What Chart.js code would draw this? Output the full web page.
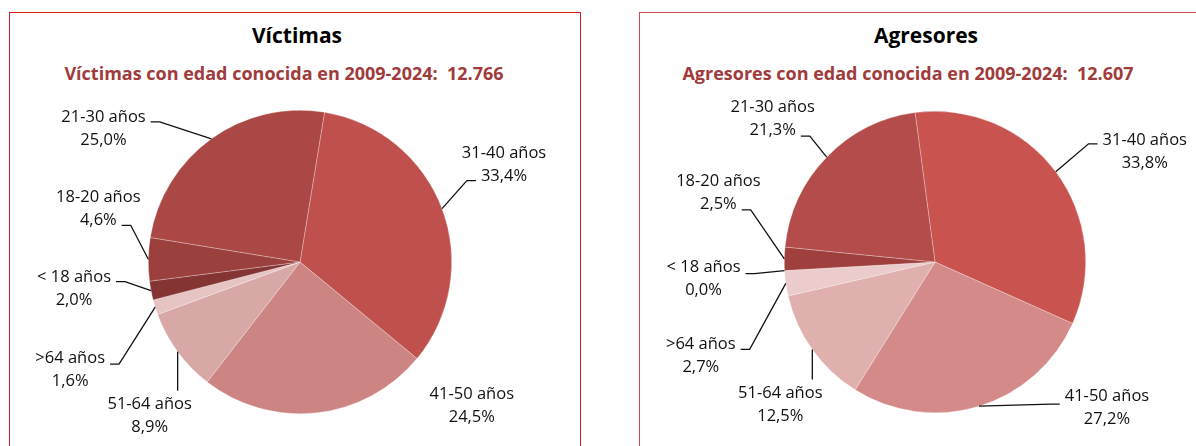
<!DOCTYPE html>
<html lang="es">
<head>
<meta charset="utf-8">
<title>Víctimas y agresores por tramo de edad</title>
<script src="https://cdn.jsdelivr.net/npm/chart.js@4.4.1/dist/chart.umd.min.js"></script>
<style>
  html, body { margin: 0; padding: 0; background: #fff; overflow: hidden; }
  body { width: 1196px; height: 446px; position: relative; font-family: 'Open Sans', sans-serif; }
  .panel { position: absolute; box-sizing: border-box; background: #fff; }
  #panelVict { left: 9px; top: 12px; width: 572px; height: 480px; border: 1.5px solid #d41f1f; }
  #panelAgr { left: 639px; top: 12px; width: 620px; height: 480px; border: 1px solid #d04848; }
  .title { position: absolute; width: 400px; text-align: center; font-weight: 700; font-size: 21px; line-height: 26px; color: #000; }
  .sub { position: absolute; width: 600px; text-align: center; font-weight: 700; font-size: 18px; line-height: 24px; color: #a03b3b; white-space: pre; }
  canvas { position: absolute; }
</style>
</head>
<body>
<div class="panel" id="panelVict"></div>
<div class="panel" id="panelAgr"></div>

<div class="title" style="left:97px; top:22px;">Víctimas</div>
<div class="sub" id="subVict" style="left:-16px; top:61px;"></div>
<div class="title" style="left:726px; top:22px;">Agresores</div>
<div class="sub" id="subAgr" style="left:608px; top:61px;"></div>

<canvas id="chartVict" width="570" height="356" style="left:10px; top:90px;"></canvas>
<canvas id="chartAgr" width="556" height="356" style="left:640px; top:90px;"></canvas>

<script>
// ---- data (clockwise from the top of each pie) ----
const categories = ['31-40 años', '41-50 años', '51-64 años', '>64 años', '< 18 años', '18-20 años', '21-30 años'];
const victimasPct = [33.4, 24.5, 8.9, 1.6, 2.0, 4.6, 25.0];
const agresoresPct = [33.8, 27.2, 12.5, 2.7, 0.0, 2.5, 21.3];
const victimasTotal = '12.766';
const agresoresTotal = '12.607';

// ---- styling ----
const victimasColors = ['#c0504d', '#cc8583', '#d8a8a7', '#e6c4c4', '#843533', '#9c403e', '#ab4846'];
const agresoresColors = ['#c8534f', '#d48a89', '#e0b0af', '#ebcbcb', '#8a3634', '#a0403e', '#b34c4a'];
const LINE_H = 23;

// label placement relative to the slice anchor (mid-angle point on the rim)
const victimasLabelLayout = [
    { dx: 62, dy: -55, leader: 'elbow', line: 1, side: 'left', yOff: 4 },
    { dx: 155, dy: -18, leader: 'none' },
    { dx: -28, dy: 53, leader: 'down' },
    { dx: -85, dy: 51, leader: 'elbow', line: 0, side: 'right', yOff: 6 },
    { dx: -77, dy: -13, leader: 'elbow', line: 0, side: 'right', yOff: 4 },
    { dx: -50, dy: -62, leader: 'elbow', line: 1, side: 'right', yOff: 5 },
    { dx: -108, dy: -22, leader: 'elbow', line: 0, side: 'right', yOff: 5 }
];
const agresoresLabelLayout = [
    { dx: 89, dy: -32, leader: 'elbow', line: 0, side: 'left', yOff: 4 },
    { dx: 128, dy: -10, leader: 'elbow', line: 0, side: 'left', yOff: 8 },
    { dx: -32, dy: 44, leader: 'down' },
    { dx: -85, dy: 61, leader: 'elbow', line: 0, side: 'right', yOff: 5 },
    { dx: -81, dy: -3, leader: 'elbow', line: 0, side: 'right', yOff: 6 },
    { dx: -66, dy: -77, leader: 'elbow', line: 1, side: 'right', yOff: 5 },
    { dx: -54, dy: -50, leader: 'elbow', line: 1, side: 'right', yOff: 6 }
];

document.getElementById('subVict').textContent = 'Víctimas con edad conocida en 2009-2024:  ' + victimasTotal;
document.getElementById('subAgr').textContent = 'Agresores con edad conocida en 2009-2024:  ' + agresoresTotal;

const fmtPct = v => v.toFixed(1).replace('.', ',') + '%';

// Excel-like outside labels with leader lines
const sliceLabels = {
    id: 'sliceLabels',
    afterDatasetsDraw(chart, args, opts) {
        const ctx = chart.ctx;
        const meta = chart.getDatasetMeta(0);
        const values = chart.data.datasets[0].data;
        ctx.save();
        ctx.font = '16.5px "Open Sans"';
        ctx.fillStyle = '#111';
        ctx.strokeStyle = '#111';
        ctx.lineWidth = 1.3;
        ctx.textAlign = 'center';
        ctx.textBaseline = 'middle';
        meta.data.forEach((arc, i) => {
            const p = arc.getProps(['x', 'y', 'startAngle', 'endAngle', 'outerRadius'], true);
            const mid = (p.startAngle + p.endAngle) / 2;
            const ax = p.x + Math.cos(mid) * p.outerRadius;
            const ay = p.y + Math.sin(mid) * p.outerRadius;
            const lay = opts.layout[i];
            const lx = ax + lay.dx, ly = ay + lay.dy;
            const lines = [chart.data.labels[i], fmtPct(values[i])];
            lines.forEach((t, k) => ctx.fillText(t, lx, ly + k * LINE_H));

            if (lay.leader === 'elbow') {
                const w = ctx.measureText(lines[lay.line]).width;
                const dir = lay.side === 'right' ? 1 : -1;
                const sx = lx + dir * (w / 2 + 5);
                const sy = ly + lay.line * LINE_H + lay.yOff;
                ctx.beginPath();
                ctx.moveTo(sx, sy);
                ctx.lineTo(sx + dir * 9, sy);
                ctx.lineTo(ax, ay);
                ctx.stroke();
            } else if (lay.leader === 'down') {
                ctx.beginPath();
                ctx.moveTo(ax, ay);
                ctx.lineTo(ax, ly - 14);
                ctx.stroke();
            }
        });
        ctx.restore();
    }
};

function makePie(id, values, colors, rotation, padding, layout) {
    return new Chart(document.getElementById(id), {
        type: 'pie',
        data: {
            labels: categories,
            datasets: [{
                data: values,
                backgroundColor: colors,
                borderColor: 'rgba(255,255,255,0.45)',
                borderWidth: 0.6,
                hoverOffset: 0
            }]
        },
        options: {
            responsive: false,
            animation: false,
            rotation: rotation,
            layout: { padding: padding },
            plugins: {
                legend: { display: false },
                tooltip: { enabled: false },
                sliceLabels: { layout: layout }
            }
        },
        plugins: [sliceLabels]
    });
}

makePie('chartVict', victimasPct, victimasColors, 9.3,
    { left: 138, right: 128, top: 20, bottom: 32 }, victimasLabelLayout);
makePie('chartAgr', agresoresPct, agresoresColors, -7.6,
    { left: 144, right: 110, top: 21, bottom: 33 }, agresoresLabelLayout);
</script>
</body>
</html>
